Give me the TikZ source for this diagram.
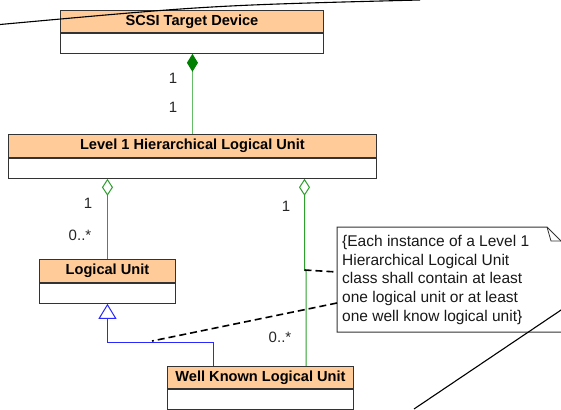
\documentclass[tikz,border=0pt]{standalone}
\usepackage{fontspec}
\setmainfont{Liberation Sans}
\usetikzlibrary{arrows.meta}
\definecolor{hdrfill}{HTML}{FFCC99}
\definecolor{lgreen}{HTML}{66BB66}
\definecolor{dgreen}{HTML}{008000}
\definecolor{agreen}{HTML}{2E9E2E}
\definecolor{ublue}{HTML}{2828FF}
\definecolor{boxline}{HTML}{333333}
\tikzset{
  hdr/.style={draw=boxline, line width=0.9pt, fill=hdrfill, anchor=north west, inner sep=0pt,
    font=\fontsize{14.6}{16}\selectfont\bfseries},
  bodyb/.style={draw=boxline, line width=0.9pt, fill=white, anchor=north west, inner sep=0pt},
  lbl/.style={font=\fontsize{15}{16}\selectfont, inner sep=0pt, text=black!85},
  assoc/.style={draw=lgreen, line width=1pt},
  gen/.style={draw=ublue, line width=1pt},
  dashc/.style={draw=black, line width=1.6pt, dash pattern=on 7pt off 4pt},
  slash/.style={draw=black, line width=1.1pt},
}
\begin{document}
\begin{tikzpicture}[x=1pt,y=-1pt]
\useasboundingbox (0,0) rectangle (561,409);
\clip (0,0) rectangle (561,409);

% classes
\node[hdr, minimum width=263pt, minimum height=22pt] (std) at (60,10) {SCSI Target Device};
\node[bodyb, minimum width=263pt, minimum height=20pt] (stdb) at (std.south west) {};

\node[hdr, minimum width=368pt, minimum height=23pt] (l1) at (8,134) {Level 1 Hierarchical Logical Unit};
\node[bodyb, minimum width=368pt, minimum height=20pt] (l1b) at (l1.south west) {};

\node[hdr, minimum width=136pt, minimum height=23pt] (lu) at (39,259) {Logical Unit};
\node[bodyb, minimum width=136pt, minimum height=20pt] (lub) at (lu.south west) {};

\node[hdr, minimum width=186pt, minimum height=22pt] (wk) at (167,366) {Well Known Logical Unit};
\node[bodyb, minimum width=186pt, minimum height=20pt] (wkb) at (wk.south west) {};

% note
\node[anchor=north west, minimum width=240pt, minimum height=105pt, inner sep=0pt] (note) at (337,227) {};
\draw[draw=boxline, line width=1pt, fill=white]
  (note.north west) -- (547,227) -- (567,247) -- (567,332) -- (note.north west |- 0,332) -- cycle;
\draw[draw=boxline, line width=0.8pt] (547,227) -- (551,241) -- (561,241);
\node[anchor=north west, inner sep=0pt, align=left,
      font=\fontsize{15.5}{18.7}\selectfont, text=black!90] (notetext) at (342,235)
  {\{Each instance of a Level 1\\Hierarchical Logical Unit\\class shall contain at least\\one logical unit or at least\\one well know logical unit\}};

% composition
\draw[assoc, -{Diamond[length=18pt,width=11pt,color=dgreen,fill=dgreen]}]
  (l1.north) -- (l1.north |- stdb.south);
\node[lbl] (m1) at (173,78) {1};
\node[lbl] (m2) at (173,107) {1};

% left aggregation
\draw[draw=agreen, line width=1pt, -{Diamond[open,length=17pt,width=11pt,color=agreen]}]
  (lu.north) -- (lu.north |- l1b.south);
\node[lbl] (m3) at (88,203) {1};
\node[lbl] (m4) at (80,235) {0..*};

% right aggregation
\coordinate (rj) at (304.5,270);
\coordinate (rk) at (306,271);
\draw[draw=agreen, line width=1pt, -{Diamond[open,length=17pt,width=11pt,color=agreen]}]
  (wk.north -| rk) -- (rk) -- (rj) -- (rj |- l1b.south);
\node[lbl] (m5) at (286,206) {1};
\node[lbl] (m6) at (280,337) {0..*};

% generalization
\coordinate (gk) at (213,342);
\draw[gen, -{Triangle[open,length=15pt,width=18pt,color=ublue]}]
  (wk.north -| gk) -- (gk) -- (gk -| lub.south) -- (lub.south);

% constraint dashes
\coordinate (n1) at (337,272);
\coordinate (n2) at (337,303);
\coordinate (g2) at (152,341);
\draw[dashc] (rj) -- (n1);
\draw[dashc] (n2) -- (g2);

% crossing strokes
\coordinate (s1) at (0,24.5);
\coordinate (sc) at (210,5.4);
\coordinate (s2) at (420,0);
\draw[slash] (s1) .. controls (sc) .. (s2);
\coordinate (s3) at (414,409);
\coordinate (s4) at (570,304);
\draw[slash] (s3) -- (s4);
\end{tikzpicture}
\end{document}
